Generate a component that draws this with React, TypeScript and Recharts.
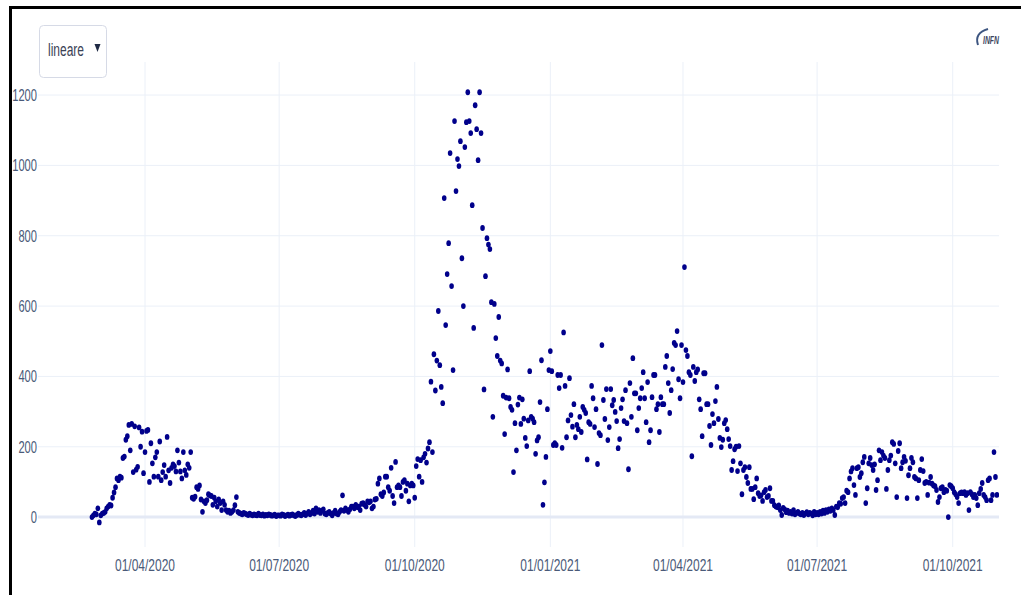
import React from "react";
import { ScatterChart, Scatter, XAxis, YAxis, ReferenceLine } from "recharts";

// Daily values, each list starts on the date given in `segments`
const feb2020 = [0, 5, 10, 8, 25];
const mar2020 = [-15, 5, 10, 12, 15, 25, 30, 35, 33, 55, 70, 85, 110, 105, 115, 112, 168, 172, 220, 230, 262, 190, 265, 128, 258, 135, 143, 255, 200, 243, 125];
const apr2020 = [185, 245, 248, 100, 210, 153, 115, 170, 185, 115, 215, 105, 128, 148, 115, 228, 133, 97, 140, 150, 145, 130, 190, 155, 130, 110, 185, 133, 120, 150];
const may2020 = [140, 185, 55, 52, 58, 85, 80, 90, 50, 15, 45, 40, 48, 65, 62, 60, 35, 55, 45, 30, 50, 40, 20, 45, 35, 20, 15, 18, 12, 15, 20];
const jun2020 = [34, 57, 15, 12, 10, 8, 12, 10, 8, 6, 10, 7, 5, 8, 6, 5, 10, 6, 5, 8, 4, 6, 5, 8, 6, 4, 5, 7, 3, 5];
const jul2020 = [5, 4, 8, 6, 3, 5, 7, 4, 6, 8, 5, 3, 6, 10, 7, 5, 8, 12, 6, 10, 15, 8, 12, 18, 10, 25, 15, 20, 12, 18, 22];
const aug2020 = [10, 8, 12, 15, 10, 5, 12, 18, 10, 8, 15, 20, 62, 18, 25, 20, 15, 22, 30, 30, 25, 35, 28, 30, 20, 38, 40, 35, 30, 45, 42];
const sep2020 = [45, 25, 30, 50, 52, 95, 110, 65, 60, 70, 115, 115, 85, 75, 140, 60, 40, 157, 85, 90, 85, 60, 100, 105, 75, 95, 45, 90, 95, 90];
const oct2020 = [55, 145, 165, 115, 162, 100, 170, 180, 155, 195, 213, 385, 185, 463, 360, 445, 586, 432, 370, 324, 907, 546, 691, 779, 1035, 657, 418, 1126, 927, 1018, 998];
const nov2020 = [1069, 736, 600, 1052, 1123, 1208, 1126, 1092, 887, 538, 1171, 1103, 1015, 1208, 1092, 822, 363, 685, 793, 775, 762, 611, 285, 606, 509, 458, 569, 445, 437, 345];
const dec2020 = [236, 340, 420, 338, 313, 305, 128, 267, 190, 320, 340, 265, 335, 280, 225, 202, 275, 415, 285, 280, 270, 180, 218, 227, 327, 446, 35, 99, 171, 307, 418];
const jan2021 = [472, 415, 205, 210, 205, 404, 367, 404, 197, 525, 373, 227, 275, 395, 290, 257, 321, 227, 262, 250, 285, 242, 313, 305, 296, 164, 270, 265, 373, 338, 256];
const feb2021 = [307, 151, 239, 233, 489, 333, 279, 364, 219, 256, 364, 318, 333, 299, 273, 196, 222, 310, 335, 273, 361, 267, 136, 381, 285, 452, 352, 352];
const mar2021 = [247, 310, 338, 367, 412, 338, 270, 384, 213, 247, 341, 404, 404, 307, 321, 242, 341, 321, 321, 427, 458, 381, 296, 361, 421, 495, 489, 529, 392, 338, 489];
const apr2021 = [384, 711, 475, 458, 412, 404, 173, 427, 387, 412, 420, 335, 307, 230, 409, 409, 321, 321, 259, 205, 293, 267, 330, 370, 279, 225, 199, 220, 267, 276];
const may2021 = [250, 222, 202, 134, 159, 193, 200, 131, 202, 153, 65, 134, 142, 114, 97, 142, 80, 80, 51, 85, 110, 68, 60, 62, 46, 71, 77, 57, 60, 82, 46];
const jun2021 = [46, 34, 30, 28, 33, 20, 6, 26, 22, 14, 18, 12, 15, 10, 20, 8, 12, 15, 10, 8, 12, 6, 10, 14, 8, 12, 10, 5, 15, 8];
const jul2021 = [12, 8, 15, 10, 18, 12, 20, 15, 22, 18, 25, 20, 6, 30, 28, 40, 38, 54, 57, 40, 75, 71, 110, 130, 139, 91, 63, 139, 142, 114, 125];
const aug2021 = [156, 171, 40, 82, 153, 168, 148, 134, 150, 77, 105, 190, 162, 185, 175, 168, 80, 134, 162, 175, 213, 208, 153, 57, 188, 210, 139, 156, 171, 160, 54];
const sep2021 = [119, 139, 168, 156, 114, 110, 54, 105, 134, 165, 131, 97, 100, 63, 98, 114, 95, 90, 88, 77, 43, 57, 82, 85, 71, 77, 75, 0, 91, 88];
const oct2021 = [82, 71, 65, 57, 40, 68, 70, 68, 71, 63, 68, 20, 71, 65, 57, 63, 54, 34, 68, 80, 97, 63, 57, 48, 105, 110, 48, 63, 185, 114, 63];

const segments: [number, number, number, number[]][] = [
  [2020, 1, 25, feb2020], [2020, 2, 1, mar2020], [2020, 3, 1, apr2020], [2020, 4, 1, may2020],
  [2020, 5, 1, jun2020], [2020, 6, 1, jul2020], [2020, 7, 1, aug2020], [2020, 8, 1, sep2020],
  [2020, 9, 1, oct2020], [2020, 10, 1, nov2020], [2020, 11, 1, dec2020], [2021, 0, 1, jan2021],
  [2021, 1, 1, feb2021], [2021, 2, 1, mar2021], [2021, 3, 1, apr2021], [2021, 4, 1, may2021],
  [2021, 5, 1, jun2021], [2021, 6, 1, jul2021], [2021, 7, 1, aug2021], [2021, 8, 1, sep2021],
  [2021, 9, 1, oct2021],
];

const xTickDates: [number, number, number][] = [
  [2020, 3, 1], [2020, 6, 1], [2020, 9, 1], [2021, 0, 1], [2021, 3, 1], [2021, 6, 1], [2021, 9, 1],
];
const yTicks = [0, 200, 400, 600, 800, 1000, 1200];
const xDomainDates: [number, number, number][] = [[2020, 0, 19.4], [2021, 10, 1.4]];
const yDomain = [-85, 1294];

const DAY = 86400000;
const ORIGIN = Date.UTC(2020, 3, 1);
const toDay = (y: number, m: number, d: number) => (Date.UTC(y, m, 1) + (d - 1) * DAY - ORIGIN) / DAY;

const data = segments.flatMap(([y, m, d, vals]) =>
  vals.map((v, i) => ({ t: toDay(y, m, d + i), v }))
);
const xTicks = xTickDates.map(([y, m, d]) => toDay(y, m, d));
const xDomain = xDomainDates.map(([y, m, d]) => toDay(y, m, d));

const pad = (n: number) => (n < 10 ? "0" + n : "" + n);
const fmtDate = (t: number) => {
  const dt = new Date(ORIGIN + Math.round(t) * DAY);
  return `${pad(dt.getUTCDate())}/${pad(dt.getUTCMonth() + 1)}/${dt.getUTCFullYear()}`;
};

const TICK_COLOR = "#4a5a78";
const GRID = "#ebf0f8";
const FONT = "'Liberation Sans', Arial, sans-serif";

const XTick = (props: any) => {
  const { x, y, payload } = props;
  const s = fmtDate(payload.value);
  return (
    <text x={x} y={y + 16} textAnchor="middle" fill={TICK_COLOR} fontSize={17} fontFamily={FONT}
      textLength={60} lengthAdjust="spacingAndGlyphs">{s}</text>
  );
};

const YTick = (props: any) => {
  const { x, y, payload } = props;
  const s = String(payload.value);
  return (
    <text x={x} y={y + 6} textAnchor="end" fill={TICK_COLOR} fontSize={17} fontFamily={FONT}
      textLength={s.length * 6.2} lengthAdjust="spacingAndGlyphs">{s}</text>
  );
};

const Dot = (props: any) => {
  const { cx, cy } = props;
  if (cx == null || cy == null) return null;
  return <ellipse cx={cx} cy={cy} rx={2.3} ry={2.9} fill="#00008b" />;
};

export default function App() {
  return (
    <div style={{ position: "absolute", left: 0, top: 0, width: 1021, height: 595, background: "#fff", overflow: "hidden" }}>
      <ScatterChart width={1021} height={595} margin={{ top: 62, right: 22, bottom: 18, left: 0 }}>
        <XAxis type="number" dataKey="t" domain={xDomain} ticks={xTicks} allowDataOverflow
          axisLine={false} tickLine={false} tickSize={0} tickMargin={8} height={30} tick={<XTick />} interval={0} />
        <YAxis type="number" dataKey="v" domain={yDomain} ticks={yTicks} allowDataOverflow
          axisLine={false} tickLine={false} tickSize={0} tickMargin={1} width={38} tick={<YTick />} interval={0} />
        {xTicks.map((t) => (
          <ReferenceLine key={"vx" + t} x={t} stroke={GRID} strokeWidth={1} />
        ))}
        {yTicks.filter((t) => t !== 0).map((t) => (
          <ReferenceLine key={"hy" + t} y={t} stroke={GRID} strokeWidth={1} />
        ))}
        <ReferenceLine y={0} stroke="#e4e9f5" strokeWidth={3} />
        <Scatter data={data} dataKey="v" isAnimationActive={false} shape={<Dot />} />
      </ScatterChart>
      <div style={{ position: "absolute", left: 9, top: 6, width: 1012, height: 589, borderLeft: "3px solid #000", borderTop: "3px solid #000", boxSizing: "border-box", pointerEvents: "none" }} />
      <svg style={{ position: "absolute", left: 0, top: 0 }} width={1021} height={595}>
        <rect x={39.5} y={25.5} width={67} height={52} rx={4} fill="#fff" stroke="#d6dae6" strokeWidth={1} />
        <text x={48} y={56} fontSize={18} fontFamily={FONT} fill="#3b4256" textLength={36} lengthAdjust="spacingAndGlyphs">lineare</text>
        <path d="M94.5 44 L100.5 44 L97.5 52 Z" fill="#1f2a44" />
        <path d="M988 29 Q974 33 978 45" stroke="#3d5580" strokeWidth={2} fill="none" />
        <text x={983} y={44} fontSize={10} fontStyle="italic" fontWeight="bold" fontFamily={FONT} fill="#3c4660"
          textLength={16} lengthAdjust="spacingAndGlyphs">INFN</text>
      </svg>
    </div>
  );
}
